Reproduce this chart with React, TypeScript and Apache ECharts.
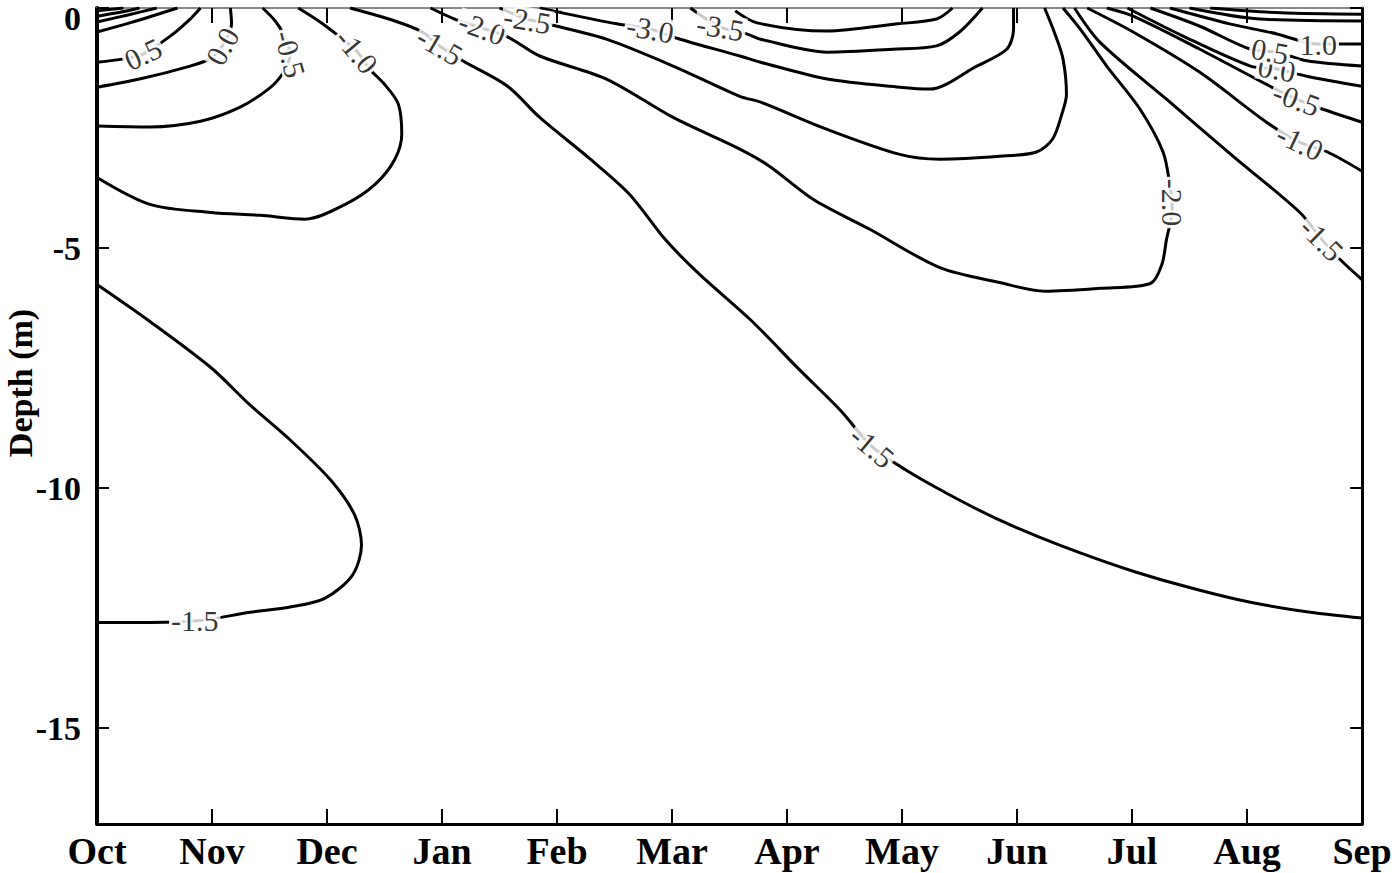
import React, { useEffect, useRef } from 'react';
import * as echarts from 'echarts';

// Axis categories / ticks
const months = ['Oct', 'Nov', 'Dec', 'Jan', 'Feb', 'Mar', 'Apr', 'May', 'Jun', 'Jul', 'Aug', 'Sep'];
const depthTicks = [-15, -10, -5, 0];

// Contour lines: [month index (Oct = 0), depth (m)]
const c2_5_left = [[0, -0.06], [0.23, 0]];
const c2_0_left = [[0, -0.17], [0.2, -0.09], [0.37, 0]];
const c1_5_left = [[0, -0.29], [0.26, -0.15], [0.52, 0]];
const c1_0_left = [[0, -0.5], [0.3, -0.3], [0.7, 0]];
const c0_5_left = [[0, -1.13], [0.23, -1.06], [0.4, -0.96], [0.64, -0.58], [0.81, -0.23], [0.9, 0]];
const c0_0_left = [[0, -1.65], [0.37, -1.48], [0.81, -1.21], [0.98, -1.06], [1.09, -0.79], [1.17, -0.33], [1.16, 0]];
const cm0_5_left = [[0, -2.46], [0.46, -2.48], [0.9, -2.36], [1.24, -2.07], [1.49, -1.69], [1.61, -1.38], [1.68, -0.96], [1.62, -0.54], [1.55, -0.27], [1.44, 0]];
const cm1_0_left = [[0, -3.53], [0.46, -4.09], [0.99, -4.26], [1.42, -4.32], [1.81, -4.4], [2.16, -4.09], [2.42, -3.67], [2.59, -3.15], [2.65, -2.63], [2.62, -2.0], [2.5, -1.59], [2.37, -1.27], [2.26, -0.9], [2.1, -0.58], [1.94, -0.29], [1.75, 0]];
const cm1_5_loop = [[0, -5.76], [0.46, -6.53], [0.99, -7.49], [1.33, -8.27], [1.68, -9.0], [2.03, -9.83], [2.24, -10.56], [2.3, -11.19], [2.22, -11.82], [1.98, -12.3], [1.68, -12.48], [1.33, -12.59], [0.9, -12.76], [0.46, -12.8], [0, -12.8]];
const cm1_5_diag = [[2.2, 0], [2.59, -0.27], [2.83, -0.5], [2.98, -0.79], [3.18, -1.1], [3.57, -1.63], [3.85, -2.28], [4.29, -3.15], [4.63, -3.88], [4.94, -4.82], [5.24, -5.55], [5.68, -6.49], [6.11, -7.54], [6.46, -8.37], [6.74, -9.14], [7.03, -9.62], [7.42, -10.15], [7.85, -10.67], [8.37, -11.19], [9.03, -11.75], [9.59, -12.13], [10.03, -12.38], [10.55, -12.59], [11, -12.71]];
const cm2_0 = [[2.9, 0], [3.11, -0.23], [3.35, -0.42], [3.57, -0.6], [3.85, -1.0], [4.43, -1.48], [5.01, -2.28], [5.59, -2.94], [5.85, -3.3], [6.23, -3.99], [6.72, -4.61], [7.33, -5.41], [7.85, -5.72], [8.24, -5.9], [8.72, -5.84], [9.16, -5.74], [9.26, -5.34], [9.3, -4.82], [9.35, -4.2], [9.33, -3.7], [9.27, -3.0], [9.07, -2.11], [8.78, -1.21], [8.55, -0.44], [8.4, 0]];
const cm2_5 = [[3.5, 0], [3.74, -0.23], [4.0, -0.38], [4.43, -0.65], [5.01, -1.21], [5.59, -1.84], [5.77, -1.96], [6.35, -2.53], [6.98, -3.05], [7.33, -3.15], [7.85, -3.09], [8.17, -3.0], [8.31, -2.73], [8.39, -2.21], [8.43, -1.8], [8.4, -1.06], [8.33, -0.54], [8.24, 0]];
const cm3_0 = [[3.85, 0], [4.0, -0.08], [4.52, -0.33], [4.81, -0.44], [5.07, -0.65], [5.59, -1.0], [5.77, -1.13], [6.35, -1.48], [6.98, -1.65], [7.24, -1.69], [7.65, -1.21], [7.91, -0.86], [7.97, -0.44], [7.97, 0]];
const cm3_5 = [[5.16, 0], [5.42, -0.4], [5.65, -0.54], [5.77, -0.65], [6.35, -0.92], [6.92, -0.86], [7.3, -0.79], [7.5, -0.5], [7.7, 0]];
const cm4_0 = [[5.55, -0.06], [5.74, -0.31], [6.35, -0.48], [6.96, -0.33], [7.3, -0.23], [7.44, 0]];
const cm1_5_right = [[8.5, 0], [8.72, -0.71], [9.3, -1.9], [9.88, -3.09], [10.46, -4.26], [10.65, -4.82], [10.81, -5.24], [11, -5.66]];
const cm1_0_right = [[8.61, 0], [9.01, -0.5], [9.59, -1.34], [10.17, -2.38], [10.46, -2.8], [10.7, -3.0], [11, -3.4]];
const cm0_5_right = [[8.78, 0], [9.01, -0.17], [9.59, -0.86], [10.2, -1.63], [10.43, -1.9], [10.66, -2.11], [11, -2.38]];
const c0_0_right = [[8.96, 0], [9.44, -0.58], [10.03, -1.21], [10.26, -1.27], [10.52, -1.42], [11, -1.63]];
const c0_5_right = [[9.16, 0], [9.59, -0.38], [10.03, -0.86], [10.26, -0.92], [10.52, -1.1], [11, -1.21]];
const c1_0_right = [[9.33, 0], [9.85, -0.33], [10.26, -0.54], [10.61, -0.75], [10.81, -0.75], [11, -0.75]];
const c1_5_right = [[9.5, 0], [10.11, -0.23], [11, -0.27]];
const c2_0_right = [[9.68, 0], [10.29, -0.1], [11, -0.13]];

const contourLines = [
  c2_5_left, c2_0_left, c1_5_left, c1_0_left, c0_5_left, c0_0_left, cm0_5_left, cm1_0_left,
  cm1_5_loop, cm1_5_diag, cm2_0, cm2_5, cm3_0, cm3_5, cm4_0,
  cm1_5_right, cm1_0_right, cm0_5_right, c0_0_right, c0_5_right, c1_0_right, c1_5_right, c2_0_right,
];

// Contour labels: [text, month index, depth, rotation in degrees]
const contourLabels: [string, number, number, number][] = [
  ['0.5', 0.4, -0.96, 25],
  ['0.0', 1.09, -0.8, 62],
  ['-0.5', 1.68, -0.96, -75],
  ['-1.0', 2.26, -0.9, -50],
  ['-1.5', 2.98, -0.79, -30],
  ['-2.0', 3.35, -0.42, -20],
  ['-2.5', 3.74, -0.25, -10],
  ['-3.0', 4.81, -0.44, -10],
  ['-3.5', 5.42, -0.4, -10],
  ['-1.5', 6.74, -9.14, -40],
  ['-1.5', 0.85, -12.77, 0],
  ['-2.0', 9.35, -4.05, -90],
  ['-1.5', 10.65, -4.82, -45],
  ['-1.0', 10.46, -2.8, -25],
  ['-0.5', 10.43, -1.9, -20],
  ['0.0', 10.26, -1.27, -10],
  ['0.5', 10.2, -0.9, -10],
  ['1.0', 10.62, -0.75, 0],
];

export default function App() {
  const ref = useRef<HTMLDivElement>(null);
  useEffect(() => {
    const chart = echarts.init(ref.current!, null, { renderer: 'svg' });
    const serif = 'Liberation Serif';
    const lineSeries = contourLines.map((pts) => ({
      type: 'line',
      data: pts,
      showSymbol: false,
      symbol: 'none',
      smooth: 0.3,
      silent: true,
      z: 2,
      lineStyle: { color: '#000', width: 3 },
    }));
    const labelSeries = {
      type: 'scatter',
      symbolSize: 1,
      itemStyle: { color: 'rgba(0,0,0,0)' },
      silent: true,
      z: 5,
      data: contourLabels.map(([t, x, y, r]) => ({ value: [x, y], name: t, label: { rotate: r } })),
      label: {
        show: true,
        position: 'inside',
        formatter: '{b}',
        color: '#000',
        fontFamily: serif,
        fontSize: 30,
        lineHeight: 24,
        backgroundColor: '#fff',
        padding: [1, 2],
        textBorderColor: '#fff',
        textBorderWidth: 5,
      },
    };
    const xBase = {
      type: 'value',
      min: 0,
      max: 11,
      interval: 1,
      splitLine: { show: false },
    };
    const yBase = {
      type: 'value',
      min: -17,
      max: 0,
      splitLine: { show: false },
    };
    chart.setOption({
      animation: false,
      backgroundColor: '#fff',
      grid: { left: 97, right: 38, top: 8, bottom: 49, outerBoundsMode: 'none' },
      xAxis: [
        {
          ...xBase,
          position: 'bottom',
          axisLine: { show: true, onZero: false, lineStyle: { color: '#000', width: 3 } },
          axisTick: { show: true, inside: true, length: 15, lineStyle: { color: '#000', width: 2 } },
          axisLabel: {
            formatter: (v: number) => months[Math.round(v)] ?? '',
            fontFamily: serif,
            fontWeight: 'bold',
            fontSize: 38,
            color: '#000',
            margin: 8,
          },
        },
        {
          ...xBase,
          position: 'top',
          axisLine: { show: true, onZero: false, lineStyle: { color: '#888', width: 2 } },
          axisTick: { show: true, inside: true, length: 15, lineStyle: { color: '#000', width: 2 } },
          axisLabel: { show: false },
        },
      ],
      yAxis: [
        {
          ...yBase,
          position: 'left',
          axisLine: { show: true, onZero: false, lineStyle: { color: '#000', width: 4 } },
          axisTick: { show: true, inside: true, length: 12, customValues: depthTicks, lineStyle: { color: '#000', width: 2 } },
          axisLabel: {
            customValues: depthTicks,
            fontFamily: serif,
            fontWeight: 'bold',
            fontSize: 34,
            lineHeight: 20,
            color: '#000',
            margin: 16,
            verticalAlignMaxLabel: 'top',
          },
        },
        {
          ...yBase,
          position: 'right',
          axisLine: { show: true, onZero: false, lineStyle: { color: '#000', width: 3 } },
          axisTick: { show: true, inside: true, length: 12, customValues: depthTicks, lineStyle: { color: '#000', width: 2 } },
          axisLabel: { show: false },
        },
      ],
      graphic: [
        {
          type: 'text',
          x: 20,
          y: 383,
          rotation: Math.PI / 2,
          style: {
            text: 'Depth (m)',
            fontFamily: serif,
            fontWeight: 'bold',
            fontSize: 34,
            fill: '#000',
            align: 'center',
            verticalAlign: 'middle',
          },
        },
      ],
      series: [...lineSeries, labelSeries],
    });
    return () => chart.dispose();
  }, []);
  return <div ref={ref} style={{ position: 'absolute', left: 0, top: 0, width: 1400, height: 873 }} />;
}
